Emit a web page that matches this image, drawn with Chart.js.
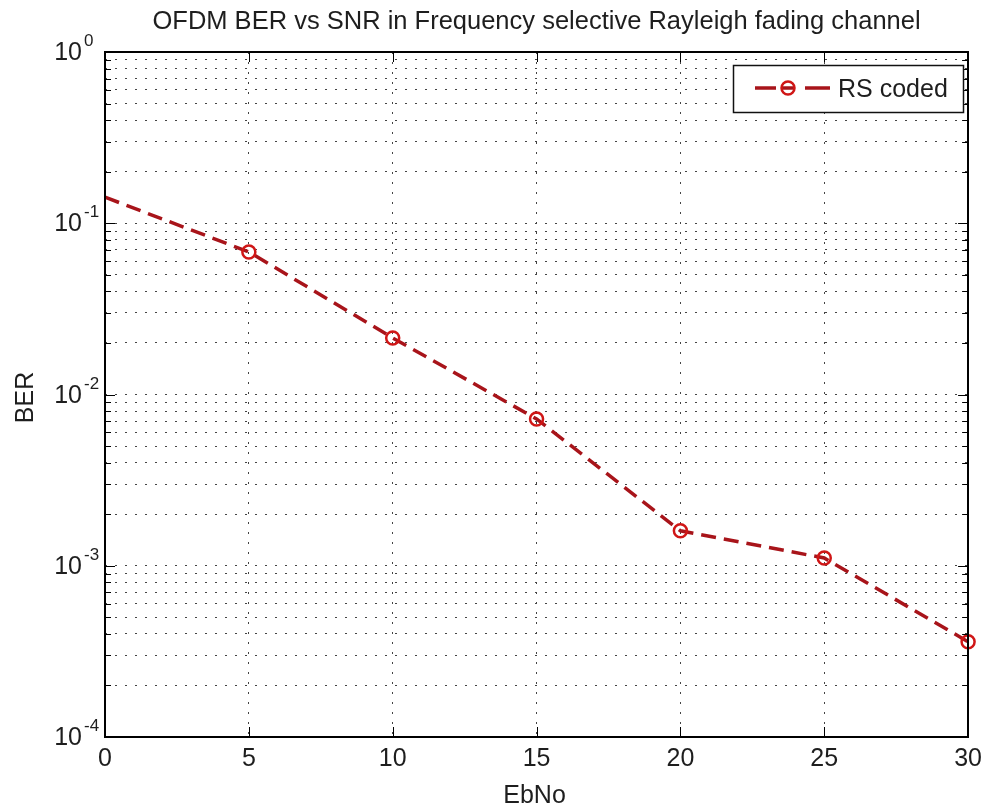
<!DOCTYPE html>
<html>
<head>
<meta charset="utf-8">
<script src="https://cdn.jsdelivr.net/npm/chart.js@4"></script>
<style>
  html, body { margin: 0; padding: 0; background: #fff; }
  #wrap { width: 989px; height: 807px; }
</style>
</head>
<body>
<div id="wrap"><canvas id="ber-chart" width="989" height="807"></canvas></div>
<script>
// data
const ebno = [0, 5, 10, 15, 20, 25, 30];
const ber = [0.142, 0.068, 0.0214, 0.0072, 0.0016, 0.00111, 0.00036];
const xTicks = [0, 5, 10, 15, 20, 25, 30];
const yExponents = [-4, -3, -2, -1, 0];
const yMinorSteps = [2, 3, 4, 5, 6, 7, 8, 9];
const titleText = "OFDM BER vs SNR in Frequency selective Rayleigh fading channel";
const xLabel = "EbNo";
const yLabel = "BER";
const seriesLabel = "RS coded";

const FONT = "'Liberation Sans', Arial, sans-serif";
const lineColor = "#a8141a";
const markColor = "#d01616";

// y grid values: every decade plus 2..9 in between
let yTickValues = [];
for (let i = 0; i < yExponents.length; i++) {
  yTickValues.push(Math.pow(10, yExponents[i]));
  if (i < yExponents.length - 1) {
    for (let j = 0; j < yMinorSteps.length; j++) {
      yTickValues.push(yMinorSteps[j] * Math.pow(10, yExponents[i]));
    }
  }
}
function isMajor(v) {
  return Math.abs(Math.log10(v) - Math.round(Math.log10(v))) < 1e-9;
}

// axes box, inward ticks, log labels, titles and legend
const decorations = {
  id: "decorations",
  afterDraw(chart) {
    const ctx = chart.ctx;
    const a = chart.chartArea;
    const x = chart.scales.x;
    const y = chart.scales.y;
    ctx.save();
    ctx.strokeStyle = "#000";
    ctx.lineWidth = 1;
    ctx.setLineDash([]);
    ctx.beginPath();
    yTickValues.forEach(v => {
      const py = Math.round(y.getPixelForValue(v)) + 0.5;
      const len = isMajor(v) ? 10 : 6;
      ctx.moveTo(a.left, py); ctx.lineTo(a.left + len, py);
      ctx.moveTo(a.right, py); ctx.lineTo(a.right - len, py);
    });
    xTicks.forEach(v => {
      const px = Math.round(x.getPixelForValue(v)) + 0.5;
      ctx.moveTo(px, a.bottom); ctx.lineTo(px, a.bottom - 10);
      ctx.moveTo(px, a.top); ctx.lineTo(px, a.top + 10);
    });
    ctx.stroke();
    ctx.lineWidth = 2;
    ctx.strokeRect(Math.round(a.left), Math.round(a.top), Math.round(a.right - a.left), Math.round(a.bottom - a.top));

    // y tick labels 10^n
    ctx.fillStyle = "#1e1e1e";
    yExponents.forEach(e => {
      const py = y.getPixelForValue(Math.pow(10, e));
      ctx.font = "25px " + FONT;
      ctx.textAlign = "right";
      ctx.textBaseline = "alphabetic";
      ctx.fillText("10", a.left - 23, py + 8);
      ctx.font = "17px " + FONT;
      ctx.textAlign = "left";
      ctx.fillText(String(e), a.left - 21, py - 6);
    });

    // title and axis labels
    ctx.font = "25.5px " + FONT;
    ctx.textAlign = "center";
    ctx.textBaseline = "alphabetic";
    ctx.fillText(titleText, (a.left + a.right) / 2, 29);
    ctx.font = "25px " + FONT;
    ctx.fillText(xLabel, (a.left + a.right) / 2 - 2, 803);
    ctx.save();
    ctx.translate(33, (a.top + a.bottom) / 2 + 3);
    ctx.rotate(-Math.PI / 2);
    ctx.fillText(yLabel, 0, 0);
    ctx.restore();

    // legend box
    const lx = 733, ly = 65, lw = 230, lh = 47;
    ctx.fillStyle = "#fff";
    ctx.fillRect(lx, ly, lw, lh);
    ctx.lineWidth = 1.5;
    ctx.strokeStyle = "#111";
    ctx.strokeRect(lx + 0.5, ly + 0.5, lw, lh);
    const cy = ly + 23;
    ctx.strokeStyle = lineColor;
    ctx.lineWidth = 3.5;
    ctx.beginPath();
    ctx.moveTo(755, cy); ctx.lineTo(776, cy);
    ctx.moveTo(805, cy); ctx.lineTo(830, cy);
    ctx.moveTo(782, cy); ctx.lineTo(795, cy);
    ctx.stroke();
    ctx.strokeStyle = markColor;
    ctx.lineWidth = 2.5;
    ctx.beginPath();
    ctx.arc(788, cy, 6.5, 0, Math.PI * 2);
    ctx.stroke();
    ctx.fillStyle = "#1e1e1e";
    ctx.font = "25px " + FONT;
    ctx.textAlign = "left";
    ctx.fillText(chart.data.datasets[0].label, 838, cy + 9);
    ctx.restore();
  }
};

new Chart(document.getElementById("ber-chart"), {
  type: "line",
  data: {
    datasets: [{
      label: seriesLabel,
      data: ebno.map((v, i) => ({ x: v, y: ber[i] })),
      borderColor: lineColor,
      borderWidth: 3.5,
      borderDash: [15, 8],
      pointStyle: "circle",
      pointRadius: c => c.dataIndex === 0 ? 0 : 6.5,
      pointHoverRadius: 0,
      pointBorderColor: markColor,
      pointBorderWidth: 2.5,
      pointBackgroundColor: "rgba(0,0,0,0)",
      tension: 0,
      fill: false,
      clip: 12
    }]
  },
  options: {
    responsive: false,
    animation: false,
    events: [],
    layout: { padding: { left: 105, right: 12, top: 52, bottom: 0 } },
    plugins: { legend: { display: false }, title: { display: false }, tooltip: { enabled: false } },
    scales: {
      x: {
        type: "linear",
        min: 0,
        max: 30,
        afterBuildTicks: s => { s.ticks = xTicks.map(v => ({ value: v })); },
        afterFit: s => { s.height = 70; },
        grid: { color: "#444", lineWidth: 1, drawTicks: false },
        border: { display: false, dash: [2, 8] },
        ticks: { color: "#1e1e1e", font: { family: FONT, size: 25 }, padding: 7, maxRotation: 0, autoSkip: false }
      },
      y: {
        type: "logarithmic",
        min: 1e-4,
        max: 1,
        afterBuildTicks: s => { s.ticks = yTickValues.map(v => ({ value: v })); },
        afterFit: s => { s.width = 0; },
        grid: { color: "#444", lineWidth: 1, drawTicks: false },
        border: { display: false, dash: [2, 8] },
        ticks: { display: false, autoSkip: false }
      }
    }
  },
  plugins: [decorations]
});
</script>
</body>
</html>
